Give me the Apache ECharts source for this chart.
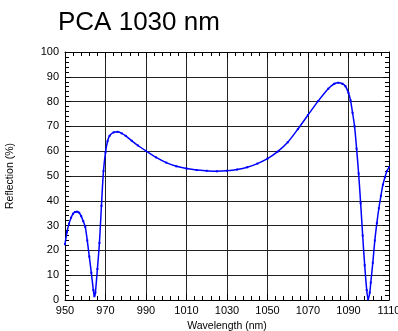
<!DOCTYPE html>
<html>
<head>
<meta charset="utf-8">
<script src="https://cdn.jsdelivr.net/npm/echarts@6/dist/echarts.min.js"></script>
<style>
  html, body { margin: 0; padding: 0; background: #fff; }
  #chart { width: 398px; height: 331px; }
</style>
</head>
<body>
<div id="chart"></div>
<script>
// values
const wavelength = [
  950, 951, 952, 953, 954, 955, 956, 957, 958, 959,
  960, 961, 962, 963, 964, 964.5, 965, 966, 967, 968,
  969, 970, 971, 972, 974, 976, 978, 980, 983, 986,
  990, 995, 1000, 1005, 1010, 1015, 1020, 1025, 1030, 1035,
  1040, 1045, 1050, 1055, 1060, 1065, 1070, 1075, 1080, 1083,
  1085, 1087, 1088.5, 1090, 1091, 1092, 1093, 1094, 1095, 1096,
  1097, 1098, 1099, 1099.7, 1100.5, 1101, 1102, 1103, 1104, 1105,
  1106, 1107, 1108, 1109, 1110
]
const reflection = [
  22.5, 27.5, 30.8, 33.2, 34.8, 35.5, 35.6, 35.2, 33.8, 31.8,
  29.5, 24.0, 17.5, 11.0, 4.0, 1.5, 3.0, 12.5, 23.0, 38.0,
  52.0, 59.5, 64.0, 66.2, 67.6, 67.8, 67.2, 66.2, 64.2, 62.3,
  60.1, 57.5, 55.4, 53.9, 53.0, 52.4, 52.1, 51.9, 52.1, 52.6,
  53.5, 55.0, 57.0, 59.8, 63.6, 68.9, 74.6, 80.2, 85.2, 87.2,
  87.6, 87.2, 86.2, 83.5, 80.5, 75.5, 70.0, 61.0, 51.0, 39.0,
  26.0, 14.0, 4.0, 0.3, 3.0, 7.0, 15.0, 24.0, 31.0, 37.0,
  42.0, 46.5, 49.5, 52.0, 53.5
]
const xRange = [950, 1110]
const yRange = [0, 100]

const font = "'Liberation Sans', Arial, sans-serif"
const chart = echarts.init(document.getElementById("chart"), null, { renderer: "canvas" })

const frameAxis = (extra) => Object.assign({
  type: "value",
  axisLine: { show: true, onZero: false, lineStyle: { color: "#000", width: 1 } },
  axisTick: { show: true, inside: true, length: 6, lineStyle: { color: "#000" } },
  minorTick: { show: true, splitNumber: 5, length: 4, lineStyle: { color: "#000" } },
  axisLabel: { show: false },
  splitLine: { show: false },
}, extra)

chart.setOption({
  animation: false,
  title: {
    text: "PCA 1030 nm",
    left: 53,
    top: 5,
    textStyle: { fontFamily: font, fontSize: 26, fontWeight: "normal", color: "#000" },
  },
  grid: { left: 65, right: 9, top: 52, bottom: 31, containLabel: false, outerBoundsMode: "none" },
  xAxis: [
    frameAxis({
      position: "bottom",
      min: xRange[0], max: xRange[1], interval: 20,
      name: "Wavelength (nm)",
      nameLocation: "middle",
      nameGap: 19,
      nameTextStyle: { fontFamily: font, fontSize: 10.5, color: "#000" },
      axisLabel: {
        show: true, margin: 5, fontFamily: font, fontSize: 11, color: "#000",
        formatter: (v) => String(v),
      },
      splitLine: { show: true, lineStyle: { color: "#222", width: 1 } },
    }),
    frameAxis({ position: "top", min: xRange[0], max: xRange[1], interval: 20 }),
  ],
  yAxis: [
    frameAxis({
      position: "left",
      min: yRange[0], max: yRange[1], interval: 10,
      name: "Reflection (%)",
      nameLocation: "middle",
      nameGap: 49,
      nameRotate: 90,
      nameTextStyle: { fontFamily: font, fontSize: 10.5, color: "#000" },
      axisLabel: { show: true, margin: 6, fontFamily: font, fontSize: 11, color: "#000" },
      splitLine: { show: true, lineStyle: { color: "#222", width: 1 } },
    }),
    frameAxis({ position: "right", min: yRange[0], max: yRange[1], interval: 10 }),
  ],
  series: [
    {
      type: "line",
      data: wavelength.map((w, i) => [w, reflection[i]]),
      smooth: 0.3,
      symbol: "rect",
      symbolSize: 2,
      showSymbol: true,
      itemStyle: { color: "#0000ff" },
      lineStyle: { color: "#0000ff", width: 1.5 },
      clip: true,
    },
  ],
})
</script>
</body>
</html>
